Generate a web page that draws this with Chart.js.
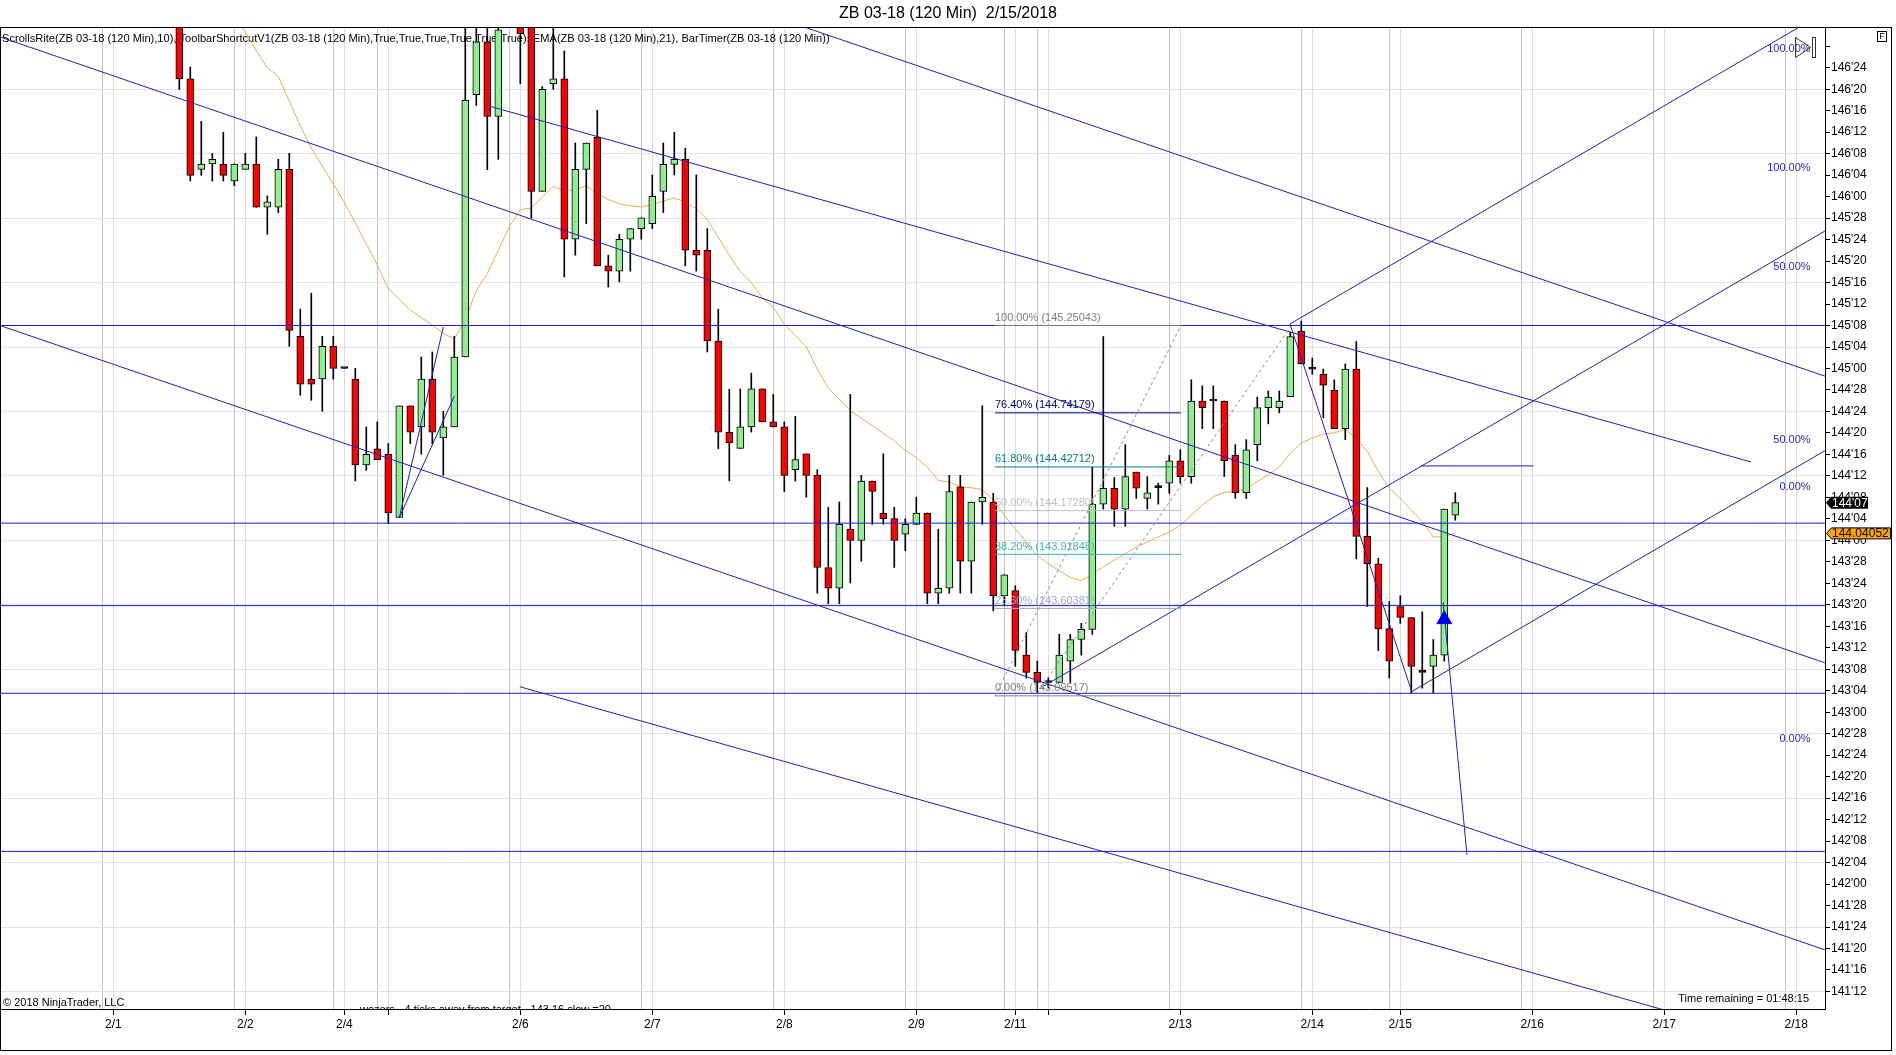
<!DOCTYPE html>
<html>
<head>
<meta charset="utf-8">
<title>ZB 03-18 (120 Min) 2/15/2018</title>
<script src="https://cdn.jsdelivr.net/npm/chart.js@4.4.1/dist/chart.umd.min.js"></script>
<style>
  html, body { margin: 0; padding: 0; background: #fff; }
  #wrap { width: 1896px; height: 1055px; }
</style>
</head>
<body>
<div id="wrap"><canvas id="zb" width="1896" height="1055"></canvas></div>
<script>
// bar index of each date tick on the time axis ('' = tick without label)
const dayTicks  = [-6, 6, 15, 19, 31, 43, 55, 67, 76, 79, 91, 103, 111, 123, 135, 147];
const dayLabels = ['2/1', '2/2', '2/4', '', '2/6', '2/7', '2/8', '2/9', '2/11', '', '2/13', '2/14', '2/15', '2/16', '2/17', '2/18'];

// price axis labels (points'32nds)
const priceLabels = ["141'12","141'16","141'20","141'24","141'28","142'00","142'04","142'08","142'12","142'16",
  "142'20","142'24","142'28","143'00","143'04","143'08","143'12","143'16","143'20","143'24","143'28",
  "144'00","144'04","144'08","144'12","144'16","144'20","144'24","144'28","145'00","145'04","145'08",
  "145'12","145'16","145'20","145'24","145'28","146'00","146'04","146'08","146'12","146'16","146'20",
  "146'24","146'28"];

// 120 min bars
const opens = [147.03,146.686,146.159,146.190,146.190,146.091,146.159,146.190,145.938,145.938,
  146.159,145.187,144.939,144.939,145.129,145.000,144.939,144.439,144.532,144.501,
  144.133,144.782,144.660,144.939,144.596,144.660,145.067,146.593,146.900,146.467,
  147.000,147.020,147.000,146.031,146.657,146.686,145.752,146.159,146.347,145.597,
  145.566,145.752,145.814,145.843,146.031,146.188,146.217,145.688,145.688,145.160,
  144.629,144.535,144.660,144.881,144.689,144.660,144.411,144.503,144.378,143.842,
  143.721,144.065,143.999,144.345,144.159,144.126,144.036,144.093,144.159,143.693,
  143.721,144.312,143.879,144.223,144.223,143.677,143.707,143.332,143.232,143.173,
  143.173,143.297,143.423,143.482,144.211,144.303,144.182,144.397,144.244,144.307,
  144.332,144.463,144.371,144.811,144.811,144.811,144.494,144.277,144.557,144.772,
  144.772,144.836,145.217,144.996,144.967,144.873,144.650,144.996,144.023,143.863,
  143.486,143.615,143.551,143.232,143.267,143.332,144.147];
const highs = [147.060,146.754,146.438,146.252,146.374,146.190,146.252,146.347,146.004,146.217,
  146.252,145.345,145.438,145.187,145.187,145.000,145.001,144.660,144.689,144.563,
  144.782,144.782,145.067,145.096,144.751,145.187,147.050,147.050,147.050,147.050,
  147.120,147.050,147.050,146.640,147.050,146.847,146.312,146.312,146.502,145.659,
  145.781,145.814,145.876,146.126,146.312,146.374,146.281,146.126,145.814,145.345,
  144.879,144.881,144.973,144.881,144.849,144.689,144.722,144.503,144.411,144.192,
  144.223,144.849,144.378,144.345,144.503,144.192,144.126,144.251,144.159,144.065,
  144.378,144.378,144.223,144.783,144.274,143.800,143.736,143.463,143.297,143.199,
  143.453,143.453,143.517,144.426,145.186,144.365,144.557,144.397,144.371,144.332,
  144.494,144.527,144.934,144.899,144.899,144.811,144.557,144.586,144.834,144.869,
  144.869,145.211,145.276,145.061,144.996,144.934,145.026,145.157,144.307,143.896,
  143.644,143.678,143.551,143.584,143.423,144.182,144.277];
const lows = [146.624,146.091,146.124,146.091,146.091,146.064,146.159,145.938,145.781,145.907,
  145.129,144.844,144.815,144.751,144.939,145.000,144.346,144.408,144.470,144.098,
  144.133,144.563,144.501,144.563,144.379,144.660,145.067,146.531,146.157,146.217,
  146.990,146.657,145.876,146.031,146.624,145.533,145.659,145.843,145.597,145.474,
  145.504,145.566,145.752,145.814,145.907,146.126,145.597,145.566,145.096,144.534,
  144.346,144.535,144.630,144.689,144.660,144.284,144.345,144.251,143.693,143.631,
  143.631,143.752,143.879,144.093,144.093,143.842,143.940,144.093,143.631,143.631,
  143.693,143.693,143.693,144.093,143.590,143.619,143.267,143.199,143.111,143.140,
  143.173,143.173,143.332,143.453,144.182,144.082,144.082,144.244,144.182,144.211,
  144.273,144.332,144.332,144.650,144.650,144.371,144.244,144.244,144.463,144.678,
  144.742,144.836,145.026,144.967,144.713,144.650,144.586,143.892,143.615,143.359,
  143.199,143.517,143.110,143.140,143.111,143.297,144.117];
const closes = [146.686,146.124,146.190,146.217,146.124,146.190,146.190,145.938,145.969,146.159,
  145.222,144.908,144.908,145.129,145.001,145.000,144.439,144.501,144.470,144.160,
  144.782,144.629,144.939,144.629,144.660,145.067,146.560,146.900,146.467,146.970,
  147.080,146.948,146.031,146.624,146.686,145.752,146.159,146.312,145.597,145.566,
  145.752,145.814,145.876,146.002,146.188,146.217,145.688,145.659,145.160,144.629,
  144.567,144.660,144.881,144.689,144.660,144.378,144.470,144.378,143.842,143.721,
  144.093,143.999,144.345,144.284,144.126,143.999,144.093,144.159,143.693,143.721,
  144.284,143.879,144.223,144.251,143.678,143.800,143.359,143.232,143.173,143.173,
  143.332,143.423,143.482,144.211,144.303,144.182,144.371,144.303,144.277,144.307,
  144.463,144.371,144.811,144.772,144.811,144.463,144.277,144.527,144.772,144.834,
  144.811,145.186,145.026,144.996,144.903,144.650,144.996,144.023,143.863,143.486,
  143.297,143.551,143.267,143.232,143.332,144.182,144.219];
// EMA(21) as plotted
const ema21 = [null,null,null,null,null,147.030,146.960,146.850,146.750,146.700,
  146.556,146.411,146.283,146.178,146.074,145.967,145.847,145.725,145.602,145.465,
  145.401,145.339,145.296,145.253,145.203,145.174,145.281,145.455,145.552,145.688,
  145.823,145.924,145.934,145.998,146.060,146.033,146.041,146.062,146.017,145.983,
  145.959,145.946,145.940,145.953,145.975,145.992,145.969,145.930,145.866,145.763,
  145.660,145.564,145.499,145.411,145.356,145.258,145.192,145.126,144.995,144.886,
  144.820,144.754,144.711,144.667,144.623,144.579,144.525,144.481,144.426,144.349,
  144.338,144.312,144.306,144.295,144.237,144.146,144.068,143.990,143.912,143.863,
  143.824,143.785,143.765,143.804,143.847,143.883,143.922,143.961,143.990,144.019,
  144.049,144.088,144.146,144.205,144.254,144.279,144.283,144.303,144.342,144.381,
  144.428,144.508,144.567,144.596,144.619,144.625,144.645,144.596,144.518,144.401,
  144.303,144.244,144.176,144.107,144.019,144.023,144.041];

// drawing objects, in [bar index, price]
const levels = [145.25, 144.10, 143.62, 143.11, 142.19];
const trendLines = [
  [-16.3, 146.929, 149.61, 143.287],
  [50.0, 147.136, 149.61, 144.955],
  [-16.3, 145.250, 149.61, 141.617],
  [30.97, 143.148, 138.25, 141.208],
  [27.95, 146.531, 142.88, 144.456],
  [78.43, 143.146, 149.61, 145.800],
  [100.97, 145.259, 149.61, 147.074],
  [112.04, 143.120, 149.61, 144.522],
  [100.97, 145.259, 112.04, 143.120],
  [114.9, 143.640, 117.06, 142.170],
  [112.9, 144.433, 123.1, 144.433],
  [20.0, 144.132, 24.0, 145.242],
  [20.0, 144.132, 25.0, 144.838]
];
const dashedLines = [
  [74.15, 143.095, 91.06, 145.250],
  [78.0, 143.110, 101.0, 145.240]
];
const fibFrom = 74.15, fibTo = 91.06;
const fibPct   = [100, 76.4, 61.8, 50, 38.2, 23.6, 0];
const fibPrice = [145.25043, 144.74179, 144.42712, 144.17280, 143.91848, 143.60381, 143.09517];
const pfText   = ['100.00%', '100.00%', '50.00%', '50.00%', '0.00%', '0.00%'];
const pfPrice  = [146.857, 146.166, 145.589, 144.583, 144.309, 142.846];
const pfAt = 148.3;
const signalBar = 115, signalPrice = 143.54;
const lastPrice = 144.21875, lastEma = 144.04052;

const fibColors = ['#808080', '#000080', '#008080', '#c0c0c0', '#3cb8b8', '#a4aac8', '#808080'];
const BLUE = 'rgb(30,30,200)';
const FONT = '"Liberation Sans", Arial, sans-serif';

const priceTicks = priceLabels.map(s => { const p = s.split("'"); return +p[0] + (+p[1]) / 32; });
const gridIdx = dayTicks.flatMap(t => [t - 1, t]);
const xMin = -16.3, xMax = 149.61, yMin = 141.273, yMax = 146.987;

function seg(l, color, dash) {
  return {
    type: 'line', data: [{ x: l[0], y: l[1] }, { x: l[2], y: l[3] }],
    borderColor: color, borderWidth: 1, borderDash: dash || [], pointRadius: 0,
    fill: false, tension: 0, order: 1
  };
}

const datasets = [];
datasets.push({
  type: 'line', data: [{ x: signalBar, y: signalPrice }], showLine: false,
  pointStyle: 'triangle', pointRadius: 8.5, backgroundColor: '#0000ff', borderColor: '#0000ff',
  borderWidth: 1, order: 0
});
fibPrice.forEach((p, k) => datasets.push(seg([fibFrom, p, fibTo, p], fibColors[k])));
dashedLines.forEach(l => datasets.push(seg(l, '#8c8c8c', [3, 3])));
trendLines.forEach(l => datasets.push(seg(l, BLUE)));
levels.forEach(v => datasets.push(seg([xMin, v, xMax, v], BLUE)));
datasets.push({
  type: 'bar', grouped: false, order: 2,
  data: opens.map((o, i) => ({ x: i, y: [o, closes[i]] })),
  backgroundColor: opens.map((o, i) => closes[i] > o ? '#90ee90' : closes[i] < o ? '#ff0000' : '#000'),
  borderColor: '#000', borderWidth: 1, borderSkipped: false, barThickness: 7, minBarLength: 2
});
datasets.push({
  type: 'bar', grouped: false, order: 3,
  data: lows.map((l, i) => ({ x: i, y: [l, highs[i]] })),
  backgroundColor: '#000', borderWidth: 0, barThickness: 1
});
datasets.push({
  type: 'line', order: 4, data: ema21.map((v, i) => ({ x: i, y: v })),
  borderColor: 'rgb(242,172,72)', borderWidth: 1, pointRadius: 0, spanGaps: true, tension: 0
});

const decor = {
  id: 'decor',
  beforeDatasetsDraw(chart) {
    const { ctx, chartArea: a } = chart;
    ctx.save();
    ctx.font = '11.1px ' + FONT;
    ctx.fillStyle = '#000';
    ctx.textBaseline = 'middle';
    ctx.fillText('ScrollsRite(ZB 03-18 (120 Min),10), ToolbarShortcutV1(ZB 03-18 (120 Min),True,True,True,True,True,True), EMA(ZB 03-18 (120 Min),21), BarTimer(ZB 03-18 (120 Min))', a.left + 2, a.top + 12);
    ctx.restore();
  },
  afterDatasetsDraw(chart) {
    const { ctx, chartArea: a, scales: { x, y } } = chart;
    ctx.save();
    ctx.beginPath();
    ctx.rect(a.left, a.top, a.right - a.left, a.bottom - a.top);
    ctx.clip();
    ctx.font = '11px ' + FONT;
    ctx.textAlign = 'left';
    ctx.textBaseline = 'bottom';
    fibPct.forEach((p, k) => {
      ctx.fillStyle = fibColors[k];
      ctx.fillText(p.toFixed(2) + '% (' + fibPrice[k].toFixed(5) + ')', x.getPixelForValue(fibFrom), y.getPixelForValue(fibPrice[k]) - 2);
    });
    ctx.fillStyle = '#2a2ad0';
    ctx.textAlign = 'right';
    ctx.textBaseline = 'middle';
    pfText.forEach((t, k) => ctx.fillText(t, x.getPixelForValue(pfAt), y.getPixelForValue(pfPrice[k])));
    ctx.fillStyle = '#000';
    ctx.textBaseline = 'alphabetic';
    ctx.fillText('Time remaining = 01:48:15', a.right - 16, a.bottom - 7);
    ctx.textAlign = 'left';
    ctx.fillText('\u00a9 2018 NinjaTrader, LLC', a.left + 3, a.bottom - 3);
    ctx.fillText('wozers - 4 ticks away from target - 143.16 slow =20', a.left + 360, a.bottom + 3.5);
    ctx.restore();
  },
  afterDraw(chart) {
    const { ctx, chartArea: a, scales: { y } } = chart;
    const W = chart.width;
    ctx.save();
    ctx.strokeStyle = '#000';
    ctx.lineWidth = 1;
    ctx.beginPath();
    ctx.moveTo(0, a.top + 0.5); ctx.lineTo(W - 4, a.top + 0.5);
    ctx.moveTo(W - 4.5, a.top); ctx.lineTo(W - 4.5, 1051);
    ctx.moveTo(0, 1050.5); ctx.lineTo(W - 4, 1050.5);
    ctx.moveTo(0.5, a.top); ctx.lineTo(0.5, 1051);
    ctx.stroke();

    // last price marker
    const x0 = a.right + 1;
    let yy = y.getPixelForValue(lastPrice);
    ctx.beginPath();
    ctx.moveTo(x0, yy); ctx.lineTo(x0 + 5, yy - 6); ctx.lineTo(x0 + 42, yy - 6);
    ctx.lineTo(x0 + 42, yy + 6); ctx.lineTo(x0 + 5, yy + 6); ctx.closePath();
    ctx.fillStyle = '#000'; ctx.fill();
    ctx.font = '12px ' + FONT;
    ctx.textBaseline = 'middle'; ctx.textAlign = 'left';
    ctx.fillStyle = '#fff';
    ctx.fillText("144'07", x0 + 6, yy + 0.5);

    // EMA marker
    yy = y.getPixelForValue(lastEma);
    ctx.beginPath();
    ctx.moveTo(x0 + 0.5, yy); ctx.lineTo(x0 + 5.5, yy - 5.5); ctx.lineTo(x0 + 64.5, yy - 5.5);
    ctx.lineTo(x0 + 64.5, yy + 5.5); ctx.lineTo(x0 + 5.5, yy + 5.5); ctx.closePath();
    ctx.fillStyle = '#ffa500'; ctx.fill(); ctx.stroke();
    ctx.fillStyle = '#000';
    ctx.fillText(lastEma.toFixed(5), x0 + 6, yy + 0.5);

    // scroll-to-end button and F box
    ctx.strokeStyle = '#333';
    ctx.beginPath();
    ctx.moveTo(1795.5, 37.5); ctx.lineTo(1810.5, 47.5); ctx.lineTo(1795.5, 57.5); ctx.closePath();
    ctx.stroke();
    ctx.strokeRect(1812.5, 37.5, 3, 20);
    ctx.strokeStyle = '#000';
    ctx.strokeRect(1877.5, 31.5, 9, 10);
    ctx.font = '9px ' + FONT;
    ctx.textAlign = 'center';
    ctx.fillStyle = '#000';
    ctx.fillText('F', 1882, 37);
    ctx.restore();
  }
};

Chart.defaults.font.family = FONT;

new Chart(document.getElementById('zb'), {
  type: 'bar',
  data: { datasets: datasets },
  options: {
    responsive: false,
    devicePixelRatio: 1,
    animation: false,
    events: [],
    layout: { padding: 0, autoPadding: false },
    plugins: {
      legend: { display: false },
      tooltip: { enabled: false },
      title: {
        display: true, text: 'ZB 03-18 (120 Min)  2/15/2018', color: '#000',
        font: { size: 16, weight: 'normal', lineHeight: 1.2 }, padding: { top: 4, bottom: 3.8 }
      }
    },
    scales: {
      x: {
        type: 'linear', min: xMin, max: xMax, offset: false,
        afterBuildTicks: s => { s.ticks = gridIdx.map(v => ({ value: v })); },
        afterFit: s => { s.height = 46; s.paddingLeft = 0; s.paddingRight = 0; },
        ticks: {
          autoSkip: false, maxRotation: 0, minRotation: 0, padding: 2, color: '#000',
          font: { size: 12 },
          callback: (v, i) => (i % 2 === 1 ? dayLabels[(i - 1) / 2] : '')
        },
        grid: {
          offset: false, tickLength: 6, lineWidth: 1,
          color: c => (c.index % 2 === 1 ? '#dedede' : '#c4c4c4'),
          tickColor: c => (c.index % 2 === 1 ? '#000' : 'rgba(0,0,0,0)')
        },
        border: { display: true, color: '#000' }
      },
      y: {
        position: 'right', min: yMin, max: yMax,
        afterBuildTicks: s => { s.ticks = priceTicks.map(v => ({ value: v })); },
        afterFit: s => { s.width = 71; s.paddingTop = 0; s.paddingBottom = 0; },
        ticks: {
          padding: 1, color: '#000', font: { size: 12 }, autoSkip: false,
          callback: (v, i) => (i === priceLabels.length - 1 ? '' : priceLabels[i])
        },
        grid: {
          tickLength: 5, lineWidth: 1, tickColor: '#000',
          color: c => (Math.round(c.tick.value * 32) % 12 === 0 ? '#e3e3e3' : 'rgba(0,0,0,0)')
        },
        border: { display: true, color: '#000' }
      }
    }
  },
  plugins: [decor]
});
</script>
</body>
</html>
